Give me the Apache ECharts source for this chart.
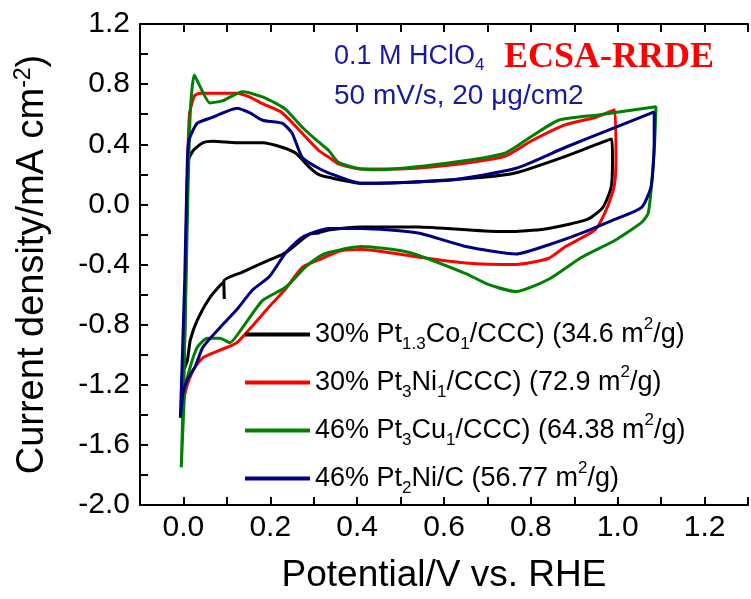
<!DOCTYPE html>
<html>
<head>
<meta charset="utf-8">
<script src="https://cdn.jsdelivr.net/npm/echarts@6/dist/echarts.min.js"></script>
<style>html,body{margin:0;padding:0;background:#fff}#c{width:751px;height:599px}</style>
</head>
<body>
<div id="c"></div>
<script>
// Potential (V vs RHE), current density (mA cm^-2) pairs traced from the CV loops
const pt13co1 = [
  [0.001,-1.10],[0.006,-0.30],[0.011,0.29],[0.023,0.36],[0.045,0.41],[0.068,0.42],[0.123,0.41],
  [0.182,0.41],[0.227,0.38],[0.259,0.34],[0.289,0.25],[0.311,0.20],[0.334,0.18],[0.41,0.14],
  [0.54,0.15],[0.69,0.18],[0.766,0.21],[0.88,0.32],[0.986,0.435],
  [0.988,0.30],[0.985,0.115],[0.966,-0.02],[0.93,-0.10],[0.84,-0.16],[0.766,-0.18],[0.727,-0.18],
  [0.54,-0.15],[0.41,-0.15],[0.334,-0.17],[0.311,-0.19],[0.289,-0.20],[0.236,-0.32],[0.198,-0.37],
  [0.136,-0.45],[0.093,-0.51],[0.094,-0.63],[0.092,-0.52],[0.061,-0.62],[0.032,-0.77],
  [0.016,-0.90],[0.009,-1.04],[0.001,-1.10]
];
const pt3ni1 = [
  [0.0,-1.30],[0.006,-0.40],[0.010,0.30],[0.014,0.60],[0.025,0.72],[0.039,0.74],[0.123,0.74],
  [0.152,0.715],[0.182,0.67],[0.227,0.61],[0.273,0.475],[0.311,0.36],[0.334,0.315],[0.357,0.27],
  [0.41,0.235],[0.5,0.235],[0.61,0.26],[0.74,0.32],[0.80,0.42],[0.88,0.53],[0.95,0.58],[0.993,0.63],
  [0.996,0.30],[0.993,0.14],[0.985,0.05],[0.97,-0.06],[0.948,-0.17],[0.88,-0.28],[0.84,-0.36],
  [0.766,-0.40],[0.65,-0.39],[0.54,-0.35],[0.41,-0.30],[0.36,-0.31],[0.311,-0.37],[0.273,-0.42],
  [0.236,-0.56],[0.198,-0.68],[0.123,-0.92],[0.084,-0.97],[0.045,-1.02],[0.027,-1.08],
  [0.010,-1.19],[0.0,-1.30]
];
const pt3cu1 = [
  [-0.005,-1.75],[0.004,-0.80],[0.009,-0.10],[0.016,0.63],[0.025,0.86],[0.039,0.78],[0.061,0.675],
  [0.091,0.69],[0.136,0.75],[0.182,0.715],[0.214,0.67],[0.236,0.63],[0.273,0.515],[0.311,0.415],
  [0.334,0.36],[0.357,0.28],[0.40,0.24],[0.448,0.23],[0.61,0.275],[0.74,0.34],[0.80,0.45],
  [0.864,0.56],[0.955,0.595],[1.088,0.65],
  [1.085,0.41],[1.077,0.10],[1.07,-0.06],[1.055,-0.12],[0.993,-0.24],[0.918,-0.35],[0.84,-0.50],
  [0.766,-0.58],[0.70,-0.53],[0.65,-0.46],[0.52,-0.32],[0.41,-0.28],[0.334,-0.32],[0.311,-0.35],
  [0.28,-0.42],[0.236,-0.55],[0.182,-0.64],[0.136,-0.82],[0.107,-0.92],[0.084,-0.89],
  [0.055,-0.89],[0.032,-0.95],[0.020,-1.04],[0.012,-1.12],[0.004,-1.21],[0.0,-1.41],[-0.005,-1.75]
];
const pt2ni = [
  [-0.007,-1.42],[0.003,-0.50],[0.009,0.29],[0.013,0.43],[0.032,0.54],[0.068,0.58],[0.123,0.64],
  [0.152,0.61],[0.182,0.56],[0.227,0.54],[0.25,0.475],[0.273,0.315],[0.305,0.25],[0.334,0.21],
  [0.41,0.14],[0.61,0.16],[0.766,0.24],[0.88,0.38],[0.993,0.51],[1.084,0.615],
  [1.084,0.41],[1.077,0.12],[1.055,-0.02],[0.993,-0.10],[0.918,-0.19],[0.84,-0.27],[0.766,-0.33],
  [0.65,-0.28],[0.54,-0.19],[0.41,-0.16],[0.334,-0.16],[0.273,-0.22],[0.236,-0.32],[0.198,-0.48],
  [0.159,-0.57],[0.123,-0.70],[0.084,-0.82],[0.045,-0.95],[0.027,-1.08],[0.012,-1.15],
  [0.0,-1.24],[-0.007,-1.42]
];
const seriesNames = ['Pt1.3Co1', 'Pt3Ni1', 'Pt3Cu1', 'Pt2Ni'];
const legendLabels = [
  '30% Pt{sub|1.3}Co{sub|1}/CCC) (34.6 m{sup|2}/g)',
  '30% Pt{sub|3}Ni{sub|1}/CCC) (72.9 m{sup|2}/g)',
  '46% Pt{sub|3}Cu{sub|1}/CCC) (64.38 m{sup|2}/g)',
  '46% Pt{sub|2}Ni/C (56.77 m{sup|2}/g)'
];
const seriesColors = ['#000000', '#ff0000', '#008000', '#000080'];
const seriesData = [pt13co1, pt3ni1, pt3cu1, pt2ni];

const FONT = "'Liberation Sans', Arial, sans-serif";

const chart = echarts.init(document.getElementById('c'), null, {renderer: 'canvas'});
const xFmt = v => (Math.round(v * 10) % 2 === 0) ? v.toFixed(1) : '';
const yFmt = v => (Math.round(v * 10) % 4 === 0) ? v.toFixed(1) : '';

chart.setOption({
  animation: false,
  backgroundColor: '#fff',
  grid: {left: 140, top: 24, width: 616, height: 481, containLabel: false},
  xAxis: [{
    type: 'value', min: -0.1, max: 1.3, interval: 0.1, position: 'bottom',
    axisLine: {show: true, onZero: false, lineStyle: {color: '#000', width: 2}},
    axisTick: {show: true, inside: true, length: 8, lineStyle: {color: '#000', width: 2}},
    splitLine: {show: false},
    axisLabel: {formatter: xFmt, color: '#000', fontFamily: FONT, fontSize: 30, margin: 8},
    name: 'Potential/V vs. RHE', nameLocation: 'middle', nameGap: 52,
    nameTextStyle: {color: '#000', fontFamily: FONT, fontSize: 37}
  }, {
    type: 'value', min: -0.1, max: 1.3, interval: 0.1, position: 'top',
    axisLine: {show: true, onZero: false, lineStyle: {color: '#000', width: 2}},
    axisTick: {show: true, inside: true, length: 8, lineStyle: {color: '#000', width: 2}},
    axisLabel: {show: false}, splitLine: {show: false}
  }],
  yAxis: [{
    type: 'value', min: -2.0, max: 1.2, interval: 0.2, position: 'left',
    axisLine: {show: true, onZero: false, lineStyle: {color: '#000', width: 2}},
    axisTick: {show: true, inside: true, length: 8, lineStyle: {color: '#000', width: 2}},
    splitLine: {show: false},
    axisLabel: {formatter: yFmt, color: '#000', fontFamily: FONT, fontSize: 30, margin: 10},
    name: 'Current density/mA cm{sup|-2})', nameLocation: 'middle', nameGap: 86, nameRotate: 90,
    nameTextStyle: {color: '#000', fontFamily: FONT, fontSize: 38, lineHeight: 42,
      rich: {sup: {fontFamily: FONT, fontSize: 23, lineHeight: 24, verticalAlign: 'top', color: '#000'}}}
  }],
  legend: {
    orient: 'vertical', left: 240, top: 311, itemGap: 11,
    itemWidth: 65, itemHeight: 4, icon: 'rect',
    data: seriesNames,
    formatter: name => legendLabels[seriesNames.indexOf(name)],
    textStyle: {color: '#000', fontFamily: FONT, fontSize: 27, lineHeight: 37,
      rich: {
        sub: {fontFamily: FONT, fontSize: 17, lineHeight: 12, verticalAlign: 'bottom', color: '#000'},
        sup: {fontFamily: FONT, fontSize: 17, lineHeight: 24, verticalAlign: 'top', color: '#000'}
      }}
  },
  graphic: [
    {type: 'text', x: 334, y: 57, style: {
      text: '0.1 M HClO{sub|4}', fill: '#1818a0', fontFamily: FONT, fontSize: 27,
      verticalAlign: 'middle', lineHeight: 34,
      rich: {sub: {fontFamily: FONT, fontSize: 17, lineHeight: 10, verticalAlign: 'bottom', fill: '#1818a0'}}
    }},
    {type: 'text', x: 334, y: 96, style: {
      text: '50 mV/s, 20 \u03bcg/cm2', fill: '#1818a0', fontFamily: FONT, fontSize: 28,
      verticalAlign: 'middle'
    }},
    {type: 'text', x: 504, y: 58, style: {
      text: 'ECSA-RRDE', fill: '#ff0000', fontFamily: "'Liberation Serif', 'Times New Roman', serif",
      fontWeight: 'bold', fontSize: 36, verticalAlign: 'middle'
    }}
  ],
  series: seriesNames.map((n, i) => ({
    name: n, type: 'line', data: seriesData[i], showSymbol: false, symbol: 'none',
    color: seriesColors[i], lineStyle: {color: seriesColors[i], width: 3},
    smooth: 0.2, clip: true
  }))
});
</script>
</body>
</html>
